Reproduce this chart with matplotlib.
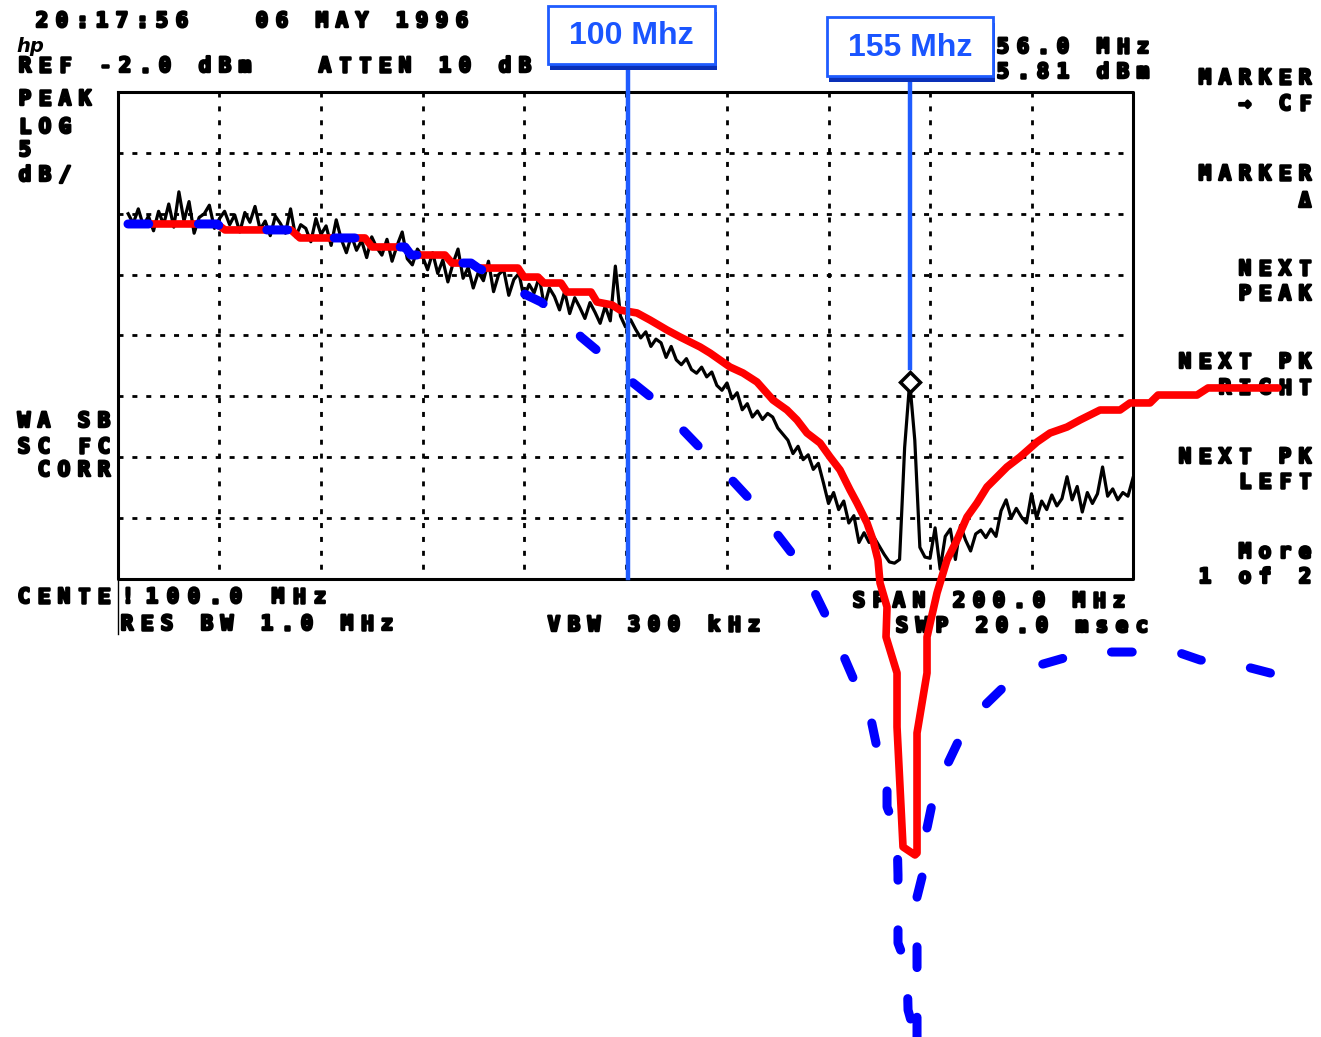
import numpy as np
import matplotlib.pyplot as plt
import matplotlib.transforms as mtransforms
import matplotlib.patheffects as pe
from matplotlib.patches import Rectangle

# --- analyzer screen: center 100 MHz, span 200 MHz, ref -2 dBm, 5 dB/div
f_start, f_stop = 0.0, 200.0
ref_level, db_div, n_div = -2.0, 5.0, 8

# --- measured trace (black), 1 MHz steps
trace_mhz = np.arange(2, 201, 1)
trace_dbm = [
    -12.0, -12.8, -11.6, -13.0, -12.2, -13.4, -11.8, -12.9, -11.2, -13.1,
    -10.2, -12.6, -11.0, -13.6, -12.3, -12.0, -11.3, -13.2, -12.4, -11.8,
    -12.9, -12.1, -13.5, -11.9, -12.7, -11.4, -13.3, -12.6, -13.8, -12.2,
    -12.8, -13.6, -11.6, -13.9, -12.9, -13.2, -14.3, -12.4, -13.7, -13.0,
    -14.6, -12.5, -14.1, -15.2, -13.8, -15.0, -14.2, -15.6, -13.9, -14.8,
    -15.4, -14.1, -15.9, -14.6, -13.5, -15.7, -16.2, -14.9, -15.5, -16.6,
    -15.2, -16.9, -15.8, -17.6, -16.1, -14.9, -17.3, -16.4, -18.1, -16.8,
    -17.5, -15.9, -18.4, -17.0, -16.6, -18.7, -17.4, -16.9, -18.9, -17.8,
    -18.5, -17.2, -19.6, -18.1, -18.8, -19.9, -18.4, -20.2, -18.9, -19.7,
    -20.6, -19.3, -20.1, -21.0, -19.6, -20.8, -16.3, -20.4, -21.3, -20.7,
    -21.5, -22.2, -21.7, -22.9, -22.3, -22.6, -23.8, -22.9, -24.0, -24.4,
    -23.9, -24.8, -25.1, -24.6, -25.4, -25.0, -26.1, -26.5, -25.9, -27.2,
    -26.7, -28.1, -27.6, -28.7, -28.2, -28.9, -28.4, -28.7, -29.6, -30.1,
    -30.6, -31.7, -31.1, -32.2, -31.8, -33.0, -32.5, -34.1, -35.8, -34.9,
    -36.3, -35.6, -37.4, -36.8, -39.0, -38.2, -39.0, -38.6, -39.3, -40.0,
    -40.6, -40.7, -40.4, -31.2, -25.8, -30.6, -39.4, -40.2, -40.3, -37.8,
    -41.2, -38.5, -37.9, -40.4, -37.6, -38.8, -39.7, -38.3, -38.0, -38.6,
    -37.9, -38.5, -36.4, -35.5, -37.0, -36.2, -36.9, -37.4, -35.0, -37.0,
    -35.6, -36.3, -35.1, -36.0, -35.4, -33.6, -35.5, -34.4, -36.5, -34.9,
    -35.8, -35.0, -32.8, -35.2, -34.6, -35.5, -34.9, -35.2, -33.7,
]

# --- red curve (solid)
red_mhz = [1.97, 19.51, 21.08, 34.09, 35.86, 48.67, 50.05, 56.55, 57.73, 64.43,
           65.81, 69.56, 70.94, 78.82, 80.00, 82.76, 83.94, 87.29, 88.47, 93.20,
           94.38, 97.34, 98.92, 102.27, 104.83, 108.18, 110.74, 114.68, 116.65, 120.59,
           123.15, 125.91, 129.06, 131.82, 133.79, 135.76, 138.33, 140.30, 142.27, 144.24,
           145.62, 147.59, 148.77, 149.75, 150.15, 151.53, 151.33, 153.50, 153.50, 154.68,
           157.04, 157.44, 157.44, 159.41, 159.41, 161.38, 163.35, 165.32, 167.29, 169.26,
           171.23, 175.17, 177.73, 181.08, 183.65, 186.99, 189.56, 193.50, 197.44, 199.41,
           203.35, 204.93, 212.61, 214.78, 228.57]
red_dbm = [-12.84, -12.84, -13.33, -13.33, -13.99, -13.99, -14.73, -14.73, -15.39, -15.39,
           -16.05, -16.05, -16.46, -16.46, -17.20, -17.20, -17.69, -17.69, -18.43, -18.43,
           -19.25, -19.49, -19.91, -20.15, -20.73, -21.55, -22.12, -22.94, -23.44, -24.59,
           -25.08, -25.82, -27.30, -28.12, -28.94, -30.01, -30.83, -31.98, -33.05, -34.69,
           -35.76, -37.40, -38.80, -40.44, -42.33, -44.30, -46.76, -49.72, -54.16, -64.01,
           -64.67, -64.51, -54.65, -49.72, -46.76, -43.15, -40.44, -38.80, -36.91, -35.76,
           -34.44, -32.80, -31.98, -30.75, -30.01, -29.52, -28.94, -28.12, -28.12, -27.54,
           -27.54, -26.89, -26.89, -26.31, -26.31]

# --- blue curve (dashed)
blue_mhz = [1.97, 19.51, 21.08, 34.09, 35.86, 48.67, 50.05, 56.55, 57.73, 64.43,
            65.81, 69.56, 70.94, 75.27, 78.42, 83.35, 88.67, 91.23, 98.33, 101.28,
            108.18, 110.74, 116.06, 120.59, 125.91, 128.47, 133.79, 136.35, 139.90, 141.87,
            145.02, 147.78, 149.56, 151.53, 151.53, 153.50, 153.69, 153.69, 153.69, 155.47,
            155.67, 157.04, 157.04, 157.44, 157.44, 157.44, 157.44, 159.41, 159.41, 161.38,
            163.55, 167.29, 169.85, 177.34, 181.67, 190.54, 197.44, 208.67, 213.20, 222.46,
            228.57]
blue_dbm = [-12.84, -12.84, -13.33, -13.33, -13.99, -13.99, -14.73, -14.73, -15.39, -15.39,
            -16.05, -16.05, -16.46, -17.28, -18.26, -19.25, -20.89, -22.12, -24.59, -25.82,
            -28.12, -29.52, -31.82, -33.70, -36.09, -37.56, -40.44, -42.33, -45.37, -47.26,
            -50.30, -52.35, -55.88, -57.93, -60.73, -62.78, -66.31, -68.37, -71.90, -73.87,
            -77.40, -79.45, -80.69, -80.69, -75.92, -70.17, -68.12, -64.83, -62.45, -58.51,
            -57.11, -53.83, -52.76, -49.72, -49.06, -48.00, -48.00, -48.00, -48.65, -49.23,
            -49.89]

# --- markers
marker_mhz = [100.5, 156.0]
marker_labels = ['100 Mhz', '155 Mhz']
marker_top_dbm = [-0.3, -1.1]
marker_end_dbm = [-41.9, -24.7]
peak_mhz, peak_dbm = 156.0, -25.81

W, H = 1321, 1037
fig = plt.figure(figsize=(W / 100, H / 100), dpi=100)
ax = fig.add_axes([0, 0, 1, 1])
ax.set_xlim(-23.25, 237.04)
ax.set_ylim(-79.62, 5.556)
ax.axis('off')

# pixel coordinates (origin top-left) for screen annotations
px = mtransforms.Affine2D().scale(1 / W, -1 / H).translate(0, 1) + fig.transFigure

bottom = ref_level - n_div * db_div

# graticule
grid_style = dict(color='black', lw=2, linestyle=(0, (1.8, 3.2)), zorder=1)
for f in np.arange(20, 200, 20):
    ax.plot([f, f], [ref_level, bottom], **grid_style)
for lv in np.arange(ref_level - db_div, bottom, -db_div):
    ax.plot([f_start, f_stop], [lv, lv], **grid_style)
ax.plot([f_start, f_stop, f_stop, f_start, f_start],
        [ref_level, ref_level, bottom, bottom, ref_level], color='black', lw=2.2, zorder=2)
ax.plot([f_start, f_start], [bottom, bottom - 4.5], color='black', lw=1, zorder=2)

# traces
ax.plot(trace_mhz, trace_dbm, color='black', lw=2.3, zorder=3)
ax.plot(red_mhz, red_dbm, color='#ff0000', lw=5.5, solid_joinstyle='round',
        solid_capstyle='round', zorder=5)
ax.plot(blue_mhz, blue_dbm, color='#0000ff', lw=6.5, linestyle=(0, (2.3, 5.5)),
        dash_capstyle='round', dash_joinstyle='round', zorder=6)

# marker lines + peak marker
for f, top, end in zip(marker_mhz, marker_top_dbm, marker_end_dbm):
    ax.plot([f, f], [top, end], color='#1f5cff', lw=3.2, zorder=7)
ax.plot(peak_mhz, peak_dbm, marker='D', ms=10, mfc='white', mec='black', mew=2.5, zorder=7)

# screen text in the analyzer's blocky font
mono = dict(family='DejaVu Sans Mono', weight='bold', size=15, color='black',
            path_effects=[pe.withStroke(linewidth=1.8, foreground='black')])
PITCH = 20


def screen_text(x, y, s, right=False, pitch=PITCH):
    if right:
        x = x - (len(s) - 1) * pitch - 14
    for i, ch in enumerate(s):
        if ch != ' ':
            ax.text(x + 7 + i * pitch, y, ch, transform=px, ha='center',
                    va='baseline', zorder=2, **mono)


screen_text(35, 27, '20:17:56   06 MAY 1996')
ax.text(16, 52, 'hp', transform=px, family='DejaVu Sans', weight='bold',
        style='italic', size=14, zorder=2)
screen_text(18, 72, 'REF -2.0 dBm   ATTEN 10 dB')
screen_text(18, 105, 'PEAK')
screen_text(18, 133, 'LOG')
screen_text(18, 156, '5')
screen_text(18, 181, 'dB/')
screen_text(17, 427, 'WA SB')
screen_text(17, 453, 'SC FC')
screen_text(17, 476, ' CORR')
screen_text(17, 603, 'CENTE')
screen_text(121, 603, '!')
screen_text(145, 603, '100.0 MHz', pitch=21)
screen_text(120, 630, 'RES BW 1.0 MHz')
screen_text(547, 631, 'VBW 300 kHz')
screen_text(852, 607, 'SPAN 200.0 MHz')
screen_text(895, 632, 'SWP 20.0 msec')
# marker readout, its left part hidden behind the 155 Mhz box
screen_text(996, 53, '56.0 MHz')
screen_text(996, 78, '5.81 dBm')

softkeys = [(84, 'MARKER'), (110, '\u2192 CF'), (180, 'MARKER'), (207, '\u0394'),
            (275, 'NEXT'), (300, 'PEAK'), (368, 'NEXT PK'), (394, 'RIGHT'),
            (463, 'NEXT PK'), (488, 'LEFT'), (558, 'More'), (583, '1 of 2')]
for y, s in softkeys:
    screen_text(1312, y, s, right=True)


# marker label boxes
def marker_box(x0, y0, x1, y1, label):
    ax.add_patch(Rectangle((x0 + 2, y0 + 6), x1 - x0, y1 - y0, transform=px,
                           fc='#0a30b8', ec='none', zorder=8))
    ax.add_patch(Rectangle((x0, y0), x1 - x0, y1 - y0, transform=px,
                           fc='white', ec='#1f5cff', lw=2, zorder=9))
    ax.text((x0 + x1) / 2, (y0 + y1) / 2 + 1, label, transform=px, ha='center',
            va='center', color='#1a55ff', size=23, weight='bold',
            family='Liberation Sans', zorder=10)


marker_box(548, 6, 715, 64, marker_labels[0])
marker_box(827, 17, 993, 76, marker_labels[1])

fig.savefig('out.png', dpi=100)
